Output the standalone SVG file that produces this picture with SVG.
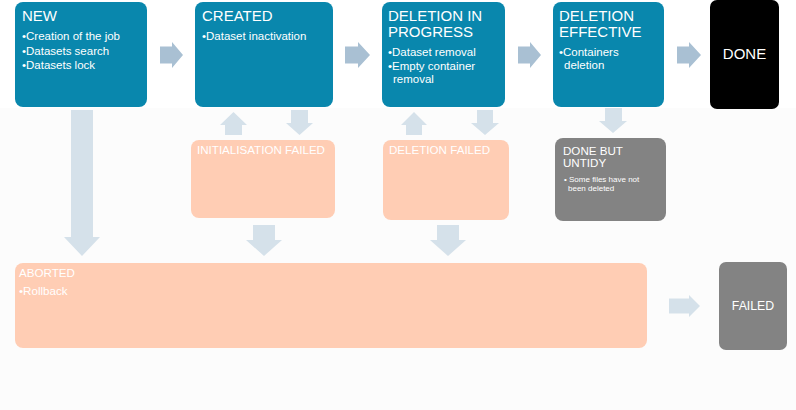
<svg xmlns="http://www.w3.org/2000/svg" width="796" height="410" viewBox="0 0 796 410">
<style>
text{font-family:"Liberation Sans",Arial,sans-serif;fill:#ffffff}
.t{font-size:15px}
.b{font-size:11.5px}
.s{font-size:8px}
.f{font-size:11.6px}
.blue{fill:#0987ad}
.peach{fill:#ffcdb4}
.gray{fill:#838383}
.dark{fill:#a9c0d3}
.light{fill:#d5e1ea}
</style>
<rect x="0" y="0" width="796" height="410" fill="#ffffff"/>
<rect x="0" y="108" width="796" height="302" fill="#fcfcfc"/>

<g id="connectors">
  <polygon class="dark" points="160,46.5 172,46.5 172,42 183,55 172,68 172,63.5 160,63.5"/>
  <polygon class="dark" points="345,46.5 358,46.5 358,42 370,55 358,68 358,63.5 345,63.5"/>
  <polygon class="dark" points="518,46.5 530,46.5 530,42 541,55 530,68 530,63.5 518,63.5"/>
  <polygon class="dark" points="677,46.5 689,46.5 689,42 701,55 689,68 689,63.5 677,63.5"/>
  <polygon class="light" points="71,110 93,110 93,237 100,237 82,256 64,237 71,237"/>
  <polygon class="light" points="225,135 242,135 242,125 247,125 233.5,112 220,125 225,125"/>
  <polygon class="light" points="291,110 308,110 308,123 313,123 299.5,135 286,123 291,123"/>
  <polygon class="light" points="406,135 422,135 422,125 427,125 414,112 401,125 406,125"/>
  <polygon class="light" points="477,110 493,110 493,123 499,123 485,135 471,123 477,123"/>
  <polygon class="light" points="605,108 622,108 622,121 627,121 613,133 599,121 605,121"/>
  <polygon class="light" points="253,225 275,225 275,240 282,240 264,256 246,240 253,240"/>
  <polygon class="light" points="437,225 459,225 459,240 466,240 448,256 430,240 437,240"/>
  <polygon class="light" points="669,298.5 689,298.5 689,295 700,306 689,317 689,313.5 669,313.5"/>
</g>

<g id="new">
  <rect class="blue" x="15" y="2" width="132" height="105" rx="8"/>
  <text class="t" x="22" y="21">NEW</text>
  <text class="b" x="22" y="40">•Creation of the job</text>
  <text class="b" x="22" y="54.5">•Datasets search</text>
  <text class="b" x="22" y="69">•Datasets lock</text>
</g>

<g id="created">
  <rect class="blue" x="195" y="2" width="138" height="105" rx="8"/>
  <text class="t" x="202" y="21">CREATED</text>
  <text class="b" x="202" y="40">•Dataset inactivation</text>
</g>

<g id="deletion-in-progress">
  <rect class="blue" x="382" y="2" width="123" height="105" rx="8"/>
  <text class="t" x="388" y="21">DELETION IN</text>
  <text class="t" x="388" y="37">PROGRESS</text>
  <text class="b" x="388" y="56">•Dataset removal</text>
  <text class="b" x="388" y="70">•Empty container</text>
  <text class="b" x="393" y="83">removal</text>
</g>

<g id="deletion-effective">
  <rect class="blue" x="553" y="2" width="111" height="105" rx="8"/>
  <text class="t" x="559" y="21">DELETION</text>
  <text class="t" x="559" y="37">EFFECTIVE</text>
  <text class="b" x="559" y="56">•Containers</text>
  <text class="b" x="564" y="69">deletion</text>
</g>

<g id="done">
  <rect x="710" y="0" width="69" height="109" rx="7" fill="#000000"/>
  <text class="t" x="744.5" y="58.5" text-anchor="middle">DONE</text>
</g>

<g id="initialisation-failed">
  <rect class="peach" x="191" y="140" width="144" height="78" rx="8"/>
  <text class="f" x="197" y="154">INITIALISATION FAILED</text>
</g>

<g id="deletion-failed">
  <rect class="peach" x="383" y="140" width="126" height="80" rx="8"/>
  <text class="f" x="389" y="154">DELETION FAILED</text>
</g>

<g id="done-but-untidy">
  <rect class="gray" x="555" y="138" width="111" height="83" rx="8"/>
  <text class="f" x="563" y="155">DONE BUT</text>
  <text class="f" x="563" y="167">UNTIDY</text>
  <text class="s" x="564" y="182">• Some files have not</text>
  <text class="s" x="568" y="191">been deleted</text>
</g>

<g id="aborted">
  <rect class="peach" x="15" y="263" width="632" height="85" rx="8"/>
  <text class="f" x="19" y="277">ABORTED</text>
  <text class="f" x="19" y="295">•Rollback</text>
</g>

<g id="failed">
  <rect class="gray" x="719" y="262" width="68" height="88" rx="7"/>
  <text class="f" x="753" y="309.5" text-anchor="middle" style="font-size:12.3px">FAILED</text>
</g>
</svg>
